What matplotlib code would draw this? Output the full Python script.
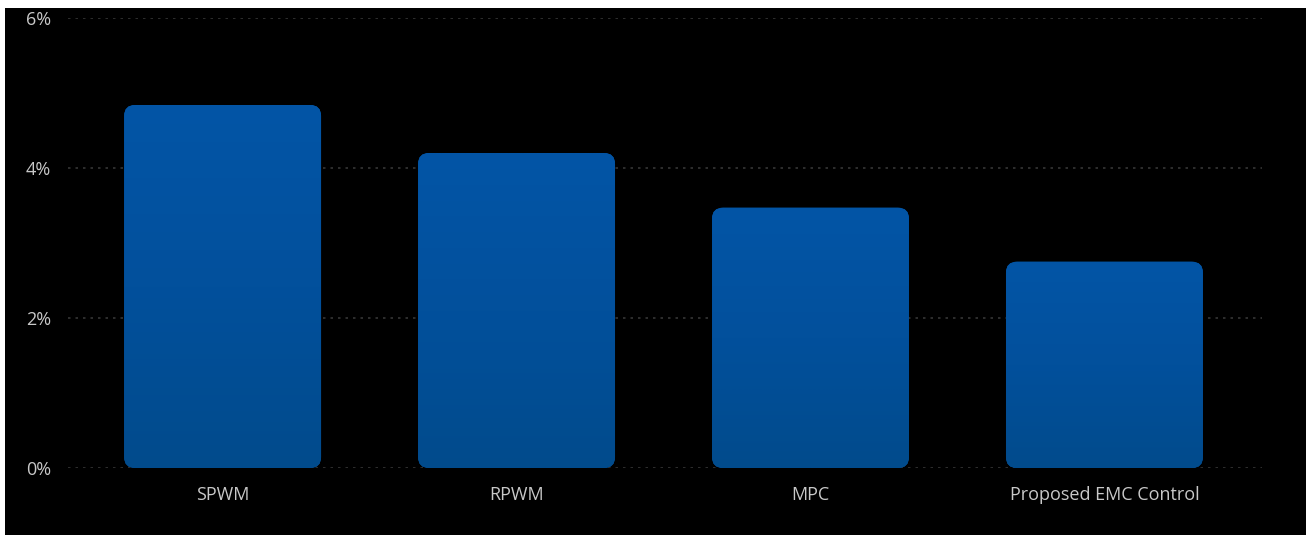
import matplotlib.pyplot as plt
import numpy as np
from matplotlib.patches import FancyBboxPatch
from matplotlib.ticker import FuncFormatter

plt.rcParams['font.family'] = ['Open Sans', 'DejaVu Sans']

# THD per control method (%)
methods = ['SPWM', 'RPWM', 'MPC', 'Proposed EMC Control']
thd = [4.84, 4.2, 3.47, 2.75]
y_ticks = [0, 2, 4, 6]

W, H = 1312, 535
fig = plt.figure(figsize=(W / 100, H / 100), dpi=100, facecolor='white')

# dark panel, with thin white margin on top and sides
bg = fig.add_axes([5 / W, 0, (1306 - 5) / W, (H - 8) / H])
bg.set_facecolor('black')
bg.set_xticks([])
bg.set_yticks([])
for s in bg.spines.values():
    s.set_visible(False)

ax = fig.add_axes([68 / W, (H - 468) / H, (1262 - 68) / W, (468 - 18) / H])
ax.set_facecolor('none')

x = np.arange(len(methods))
bars = ax.bar(x, thd, width=0.67, color='none')

xlim = (-0.526, 3.536)
ylim = (0, 6)
ax.set_xlim(*xlim)
ax.set_ylim(*ylim)

# pixel scale per data unit, used to keep the corner radius round
px_x = (1262 - 68) / (xlim[1] - xlim[0])
px_y = (468 - 18) / (ylim[1] - ylim[0])
radius_px = 11
grad = np.linspace(0, 1, 256).reshape(-1, 1)
cmap = plt.matplotlib.colors.LinearSegmentedColormap.from_list(
    'bar', ['#014b8c', '#02509c', '#0355a6'])

for b in bars:
    bx, by = b.get_x(), b.get_y()
    bw, bh = b.get_width(), b.get_height()
    patch = FancyBboxPatch((bx, by), bw, bh,
                           boxstyle='round,pad=0,rounding_size=%f' % (radius_px / px_x),
                           mutation_aspect=px_x / px_y,
                           facecolor='#02509c', edgecolor='none', zorder=2)
    ax.add_patch(patch)
    im = ax.imshow(grad, extent=[bx, bx + bw, by, by + bh], origin='lower',
                   cmap=cmap, aspect='auto', zorder=3)
    im.set_clip_path(patch)
    b.remove()

ax.set_xlim(*xlim)
ax.set_ylim(*ylim)

ax.set_yticks(y_ticks)
ax.yaxis.set_major_formatter(FuncFormatter(lambda v, p: '%d%%' % v))
ax.set_xticks(x)
ax.set_xticklabels(methods)
ax.tick_params(axis='both', length=0, colors='#c8c8c8', labelsize=13)
ax.tick_params(axis='y', pad=12)
ax.tick_params(axis='x', pad=13)
ax.grid(axis='y', color='#363636', linestyle=(0, (1.5, 3)), linewidth=1.2, zorder=0)
ax.set_axisbelow(True)
for s in ax.spines.values():
    s.set_visible(False)

fig.savefig('out.png', dpi=100, facecolor='white')
